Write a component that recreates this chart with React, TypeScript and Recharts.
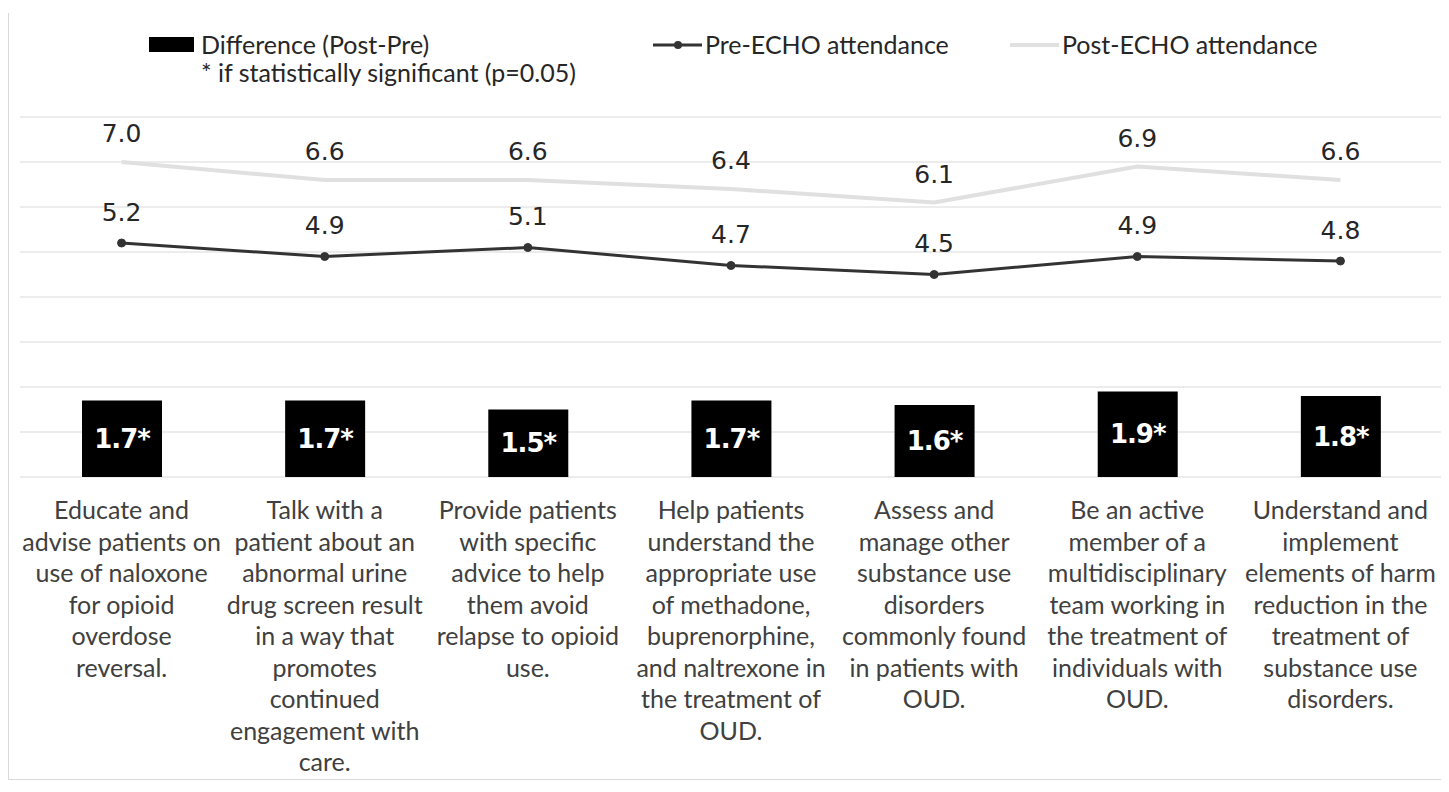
import React from 'react';
import { ComposedChart, Bar, Line, XAxis, YAxis, CartesianGrid, LabelList, Legend } from 'recharts';

const categories: string[] = [
  'Educate and\nadvise patients on\nuse of naloxone\nfor opioid\noverdose\nreversal.',
  'Talk with a\npatient about an\nabnormal urine\ndrug screen result\nin a way that\npromotes\ncontinued\nengagement with\ncare.',
  'Provide patients\nwith specific\nadvice to help\nthem avoid\nrelapse to opioid\nuse.',
  'Help patients\nunderstand the\nappropriate use\nof methadone,\nbuprenorphine,\nand naltrexone in\nthe treatment of\nOUD.',
  'Assess and\nmanage other\nsubstance use\ndisorders\ncommonly found\nin patients with\nOUD.',
  'Be an active\nmember of a\nmultidisciplinary\nteam working in\nthe treatment of\nindividuals with\nOUD.',
  'Understand and\nimplement\nelements of harm\nreduction in the\ntreatment of\nsubstance use\ndisorders.',
];
const preEcho: number[] = [5.2, 4.9, 5.1, 4.7, 4.5, 4.9, 4.8];
const postEcho: number[] = [7.0, 6.6, 6.6, 6.4, 6.1, 6.9, 6.6];
const difference: number[] = [1.7, 1.7, 1.5, 1.7, 1.6, 1.9, 1.8];
const significant: boolean[] = [true, true, true, true, true, true, true];
const yTicks: number[] = [0, 1, 2, 3, 4, 5, 6, 7, 8];

const data = categories.map((c, i) => ({
  category: c,
  pre: preEcho[i],
  post: postEcho[i],
  diff: difference[i],
  diffLabel: difference[i].toFixed(1) + (significant[i] ? '*' : ''),
}));

const LABEL_FONT = 'Lato, "Open Sans", sans-serif';
const NUM_FONT = '"DejaVu Sans", Verdana, sans-serif';

const CategoryTick = (props: any) => {
  const { x, y, payload } = props;
  const lines = String(payload.value).split('\n');
  return (
    <g>
      {lines.map((l: string, i: number) => (
        <text
          key={i}
          x={x}
          y={y + 32 + i * 31.5}
          textAnchor="middle"
          dominantBaseline="central"
          fontFamily={LABEL_FONT}
          fontSize={25}
          fill="#404040"
        >
          {l}
        </text>
      ))}
    </g>
  );
};

const lineLabel = (offset: number) => (props: any) => {
  const { x, y, value } = props;
  if (x == null || y == null) return null;
  return (
    <text
      x={x}
      y={y - offset}
      textAnchor="middle"
      dominantBaseline="central"
      fontFamily={NUM_FONT}
      fontSize={25}
      fill="#262626"
    >
      {Number(value).toFixed(1)}
    </text>
  );
};

const barLabel = (props: any) => {
  const { x, y, width, height, value } = props;
  return (
    <text
      x={x + width / 2}
      y={y + height / 2}
      textAnchor="middle"
      dominantBaseline="central"
      fontFamily={NUM_FONT}
      fontWeight={700}
      fontSize={26}
      letterSpacing={-1}
      fill="#ffffff"
    >
      {value}
    </text>
  );
};

const LegendContent = () => (
  <div
    style={{
      position: 'relative',
      width: 1440,
      height: 90,
      fontFamily: LABEL_FONT,
      fontSize: 25,
      color: '#262626',
      lineHeight: '28px',
    }}
  >
    <div style={{ position: 'absolute', left: 140, top: 24, width: 45, height: 15, background: '#000' }} />
    <div style={{ position: 'absolute', left: 192, top: 17, whiteSpace: 'nowrap' }}>Difference (Post-Pre)</div>
    <div style={{ position: 'absolute', left: 192, top: 45, whiteSpace: 'nowrap' }}>* if statistically significant (p=0.05)</div>
    <svg style={{ position: 'absolute', left: 644, top: 22 }} width={50} height={20}>
      <line x1={0} y1={10} x2={49} y2={10} stroke="#333333" strokeWidth={3} />
      <circle cx={25} cy={10} r={4} fill="#333333" />
    </svg>
    <div style={{ position: 'absolute', left: 696, top: 17, whiteSpace: 'nowrap' }}>Pre-ECHO attendance</div>
    <svg style={{ position: 'absolute', left: 1001, top: 22 }} width={50} height={20}>
      <line x1={0} y1={10} x2={49} y2={10} stroke="#e0e0e0" strokeWidth={4} />
    </svg>
    <div style={{ position: 'absolute', left: 1053, top: 17, whiteSpace: 'nowrap' }}>Post-ECHO attendance</div>
  </div>
);

export default function App() {
  return (
    <div style={{ paddingTop: 5 }}>
      <div
        style={{
          position: 'relative',
          width: 1440,
          height: 766,
          borderLeft: '1px solid #d9d9d9',
          borderBottom: '1px solid #d9d9d9',
          background: '#ffffff',
        }}
      >
        <ComposedChart
          width={1440}
          height={766}
          data={data}
          margin={{ top: 104, right: 7, bottom: 12, left: 11 }}
        >
          <CartesianGrid vertical={false} stroke="#d9d9d9" strokeWidth={1} />
          <XAxis
            dataKey="category"
            interval={0}
            height={290}
            tickLine={false}
            axisLine={false}
            tickSize={0}
            tickMargin={0}
            tick={<CategoryTick />}
          />
          <YAxis hide domain={[0, 8]} ticks={yTicks} type="number" />
          <Legend
            verticalAlign="middle"
            align="center"
            layout="horizontal"
            wrapperStyle={{ top: 0, left: 0, width: 1440, height: 90 }}
            content={<LegendContent />}
          />
          <Bar dataKey="diff" fill="#000000" barSize={80} isAnimationActive={false}>
            <LabelList dataKey="diffLabel" content={barLabel} />
          </Bar>
          <Line
            dataKey="post"
            stroke="#e0e0e0"
            strokeWidth={4}
            dot={false}
            activeDot={false}
            isAnimationActive={false}
          >
            <LabelList dataKey="post" content={lineLabel(28.5)} />
          </Line>
          <Line
            dataKey="pre"
            stroke="#333333"
            strokeWidth={3}
            dot={{ r: 4, fill: '#333333', stroke: '#333333', strokeWidth: 1 }}
            activeDot={false}
            isAnimationActive={false}
          >
            <LabelList dataKey="pre" content={lineLabel(31)} />
          </Line>
        </ComposedChart>
      </div>
    </div>
  );
}
